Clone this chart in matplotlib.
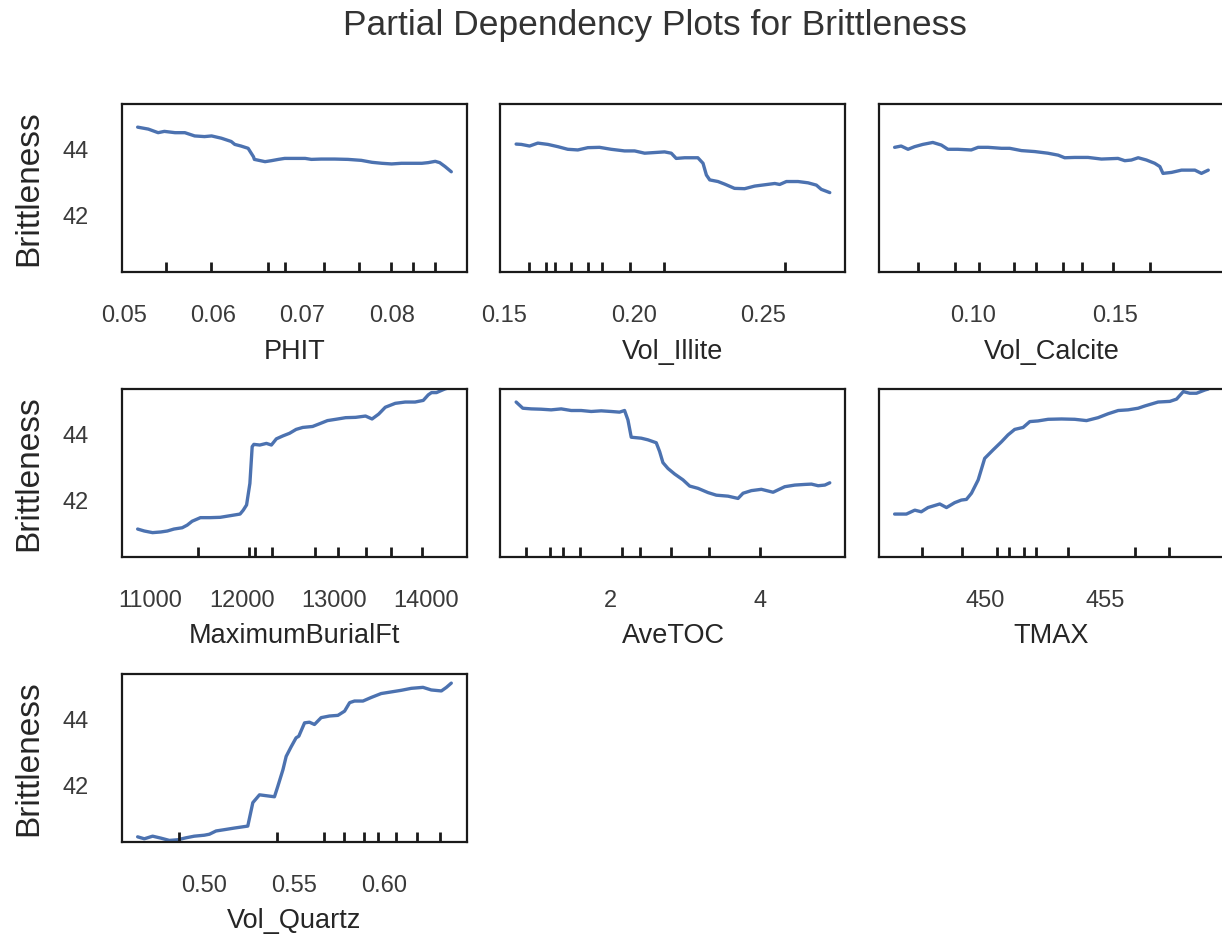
import matplotlib.pyplot as plt
import matplotlib.transforms as mtransforms
import seaborn as sns

# Partial dependence values
phit_x = [0.0515, 0.0527, 0.0538, 0.0545, 0.0557, 0.0568, 0.0579, 0.0590, 0.0598, 0.0609,
          0.0620, 0.0624, 0.0631, 0.0639, 0.0645, 0.0646, 0.0658, 0.0665, 0.0673, 0.0680,
          0.0691, 0.0703, 0.0710, 0.0721, 0.0736, 0.0751, 0.0766, 0.0778, 0.0789, 0.0800,
          0.0811, 0.0822, 0.0834, 0.0841, 0.0849, 0.0854, 0.0860, 0.0867]
phit_pd = [44.70, 44.64, 44.53, 44.57, 44.53, 44.53, 44.43, 44.41, 44.43, 44.36,
           44.26, 44.17, 44.12, 44.05, 43.79, 43.71, 43.64, 43.67, 43.71, 43.74,
           43.74, 43.74, 43.71, 43.72, 43.72, 43.71, 43.68, 43.62, 43.59, 43.57,
           43.59, 43.59, 43.59, 43.61, 43.65, 43.61, 43.49, 43.33]
phit_deciles = [0.0547, 0.0597, 0.0661, 0.0680, 0.0724, 0.0763, 0.0799, 0.0824, 0.0849]

illite_x = [0.1545, 0.1565, 0.1597, 0.1629, 0.1668, 0.1707, 0.1745, 0.1784, 0.1823, 0.1868,
            0.1913, 0.1965, 0.2004, 0.2043, 0.2081, 0.2120, 0.2146, 0.2165, 0.2198, 0.2249,
            0.2269, 0.2282, 0.2295, 0.2327, 0.2353, 0.2391, 0.2430, 0.2469, 0.2508, 0.2547,
            0.2566, 0.2592, 0.2637, 0.2676, 0.2708, 0.2727, 0.2760]
illite_pd = [44.18, 44.17, 44.12, 44.21, 44.17, 44.10, 44.02, 44.00, 44.07, 44.08,
             44.02, 43.97, 43.97, 43.90, 43.92, 43.94, 43.90, 43.74, 43.76, 43.76,
             43.59, 43.23, 43.08, 43.03, 42.95, 42.82, 42.81, 42.89, 42.93, 42.97,
             42.94, 43.03, 43.03, 42.99, 42.92, 42.79, 42.69]
illite_deciles = [0.1593, 0.1661, 0.1694, 0.1756, 0.1823, 0.1879, 0.1985, 0.2118, 0.2585]

calcite_x = [0.0725, 0.0748, 0.0772, 0.0795, 0.0824, 0.0859, 0.0889, 0.0912, 0.0947, 0.0994,
             0.1018, 0.1053, 0.1100, 0.1129, 0.1170, 0.1217, 0.1263, 0.1299, 0.1322, 0.1357,
             0.1404, 0.1451, 0.1509, 0.1533, 0.1556, 0.1580, 0.1609, 0.1638, 0.1656, 0.1667,
             0.1697, 0.1732, 0.1779, 0.1802, 0.1826]
calcite_pd = [44.08, 44.12, 44.02, 44.10, 44.17, 44.23, 44.15, 44.02, 44.02, 44.00,
              44.08, 44.08, 44.05, 44.05, 43.98, 43.95, 43.90, 43.84, 43.76, 43.77,
              43.77, 43.72, 43.74, 43.67, 43.69, 43.76, 43.69, 43.59, 43.49, 43.28,
              43.31, 43.38, 43.38, 43.28, 43.38]
calcite_deciles = [0.0807, 0.0936, 0.1021, 0.1144, 0.1220, 0.1316, 0.1384, 0.1492, 0.1621]

burial_x = [10867, 10939, 11029, 11119, 11190, 11262, 11352, 11406, 11460, 11550,
            11657, 11765, 11873, 11981, 12016, 12052, 12088, 12113, 12131, 12196,
            12268, 12322, 12376, 12447, 12519, 12591, 12663, 12770, 12843, 12932,
            13022, 13130, 13238, 13346, 13417, 13489, 13561, 13669, 13777, 13885,
            13974, 14028, 14064, 14118, 14208, 14279]
burial_pd = [41.11, 41.05, 41.00, 41.02, 41.05, 41.11, 41.15, 41.23, 41.35, 41.46,
             41.46, 41.47, 41.52, 41.57, 41.69, 41.85, 42.51, 43.64, 43.71, 43.69,
             43.74, 43.69, 43.88, 43.97, 44.05, 44.17, 44.23, 44.26, 44.34, 44.44,
             44.48, 44.53, 44.54, 44.58, 44.49, 44.64, 44.85, 44.97, 45.01, 45.01,
             45.06, 45.23, 45.30, 45.30, 45.41, 45.47]
burial_deciles = [11521, 12082, 12142, 12333, 12792, 13051, 13346, 13618, 13956]

toc_x = [0.747, 0.836, 0.947, 1.080, 1.213, 1.347, 1.480, 1.613, 1.747, 1.880,
         2.013, 2.124, 2.191, 2.236, 2.280, 2.413, 2.502, 2.613, 2.658, 2.702,
         2.769, 2.858, 2.969, 3.058, 3.169, 3.302, 3.413, 3.569, 3.702, 3.769,
         3.880, 4.013, 4.169, 4.324, 4.458, 4.591, 4.680, 4.769, 4.858, 4.924]
toc_pd = [45.01, 44.82, 44.80, 44.79, 44.77, 44.80, 44.75, 44.75, 44.72, 44.74,
          44.72, 44.70, 44.75, 44.46, 43.93, 43.90, 43.85, 43.76, 43.49, 43.15,
          42.97, 42.80, 42.62, 42.43, 42.36, 42.23, 42.15, 42.12, 42.05, 42.21,
          42.29, 42.33, 42.24, 42.41, 42.46, 42.48, 42.49, 42.44, 42.46, 42.53]
toc_deciles = [0.88, 1.20, 1.37, 1.60, 2.16, 2.39, 2.81, 3.31, 4.00]

tmax_x = [446.22, 446.71, 447.06, 447.33, 447.61, 448.10, 448.38, 448.72, 449.00, 449.21,
          449.42, 449.70, 449.97, 450.32, 450.67, 450.94, 451.22, 451.57, 451.85, 452.19,
          452.61, 453.17, 453.72, 454.21, 454.69, 455.11, 455.53, 455.94, 456.36, 456.64,
          457.19, 457.68, 457.96, 458.24, 458.51, 458.79, 459.14, 459.28]
tmax_pd = [41.57, 41.57, 41.69, 41.64, 41.77, 41.88, 41.77, 41.92, 42.00, 42.02,
           42.21, 42.62, 43.28, 43.54, 43.79, 44.00, 44.17, 44.23, 44.41, 44.43,
           44.48, 44.49, 44.48, 44.44, 44.53, 44.65, 44.75, 44.77, 44.82, 44.89,
           45.01, 45.03, 45.10, 45.33, 45.28, 45.28, 45.38, 45.41]
tmax_deciles = [447.38, 449.04, 450.49, 450.99, 451.61, 452.10, 453.45, 456.22, 457.65]

quartz_x = [0.4630, 0.4667, 0.4713, 0.4759, 0.4806, 0.4852, 0.4898, 0.4944, 0.5000, 0.5028,
            0.5065, 0.5111, 0.5167, 0.5204, 0.5241, 0.5269, 0.5306, 0.5361, 0.5389, 0.5407,
            0.5436, 0.5454, 0.5481, 0.5509, 0.5524, 0.5556, 0.5583, 0.5611, 0.5648, 0.5694,
            0.5741, 0.5778, 0.5806, 0.5833, 0.5880, 0.5926, 0.5981, 0.6037, 0.6093, 0.6148,
            0.6213, 0.6259, 0.6315, 0.6343, 0.6370]
quartz_pd = [40.41, 40.35, 40.43, 40.37, 40.30, 40.32, 40.38, 40.43, 40.46, 40.49,
             40.59, 40.63, 40.68, 40.71, 40.74, 41.46, 41.70, 41.66, 41.64, 41.95,
             42.47, 42.88, 43.17, 43.45, 43.50, 43.91, 43.93, 43.86, 44.07, 44.12,
             44.14, 44.27, 44.53, 44.58, 44.58, 44.69, 44.81, 44.86, 44.91, 44.97,
             45.00, 44.92, 44.89, 45.00, 45.13]
quartz_deciles = [0.4858, 0.5404, 0.5663, 0.5774, 0.5886, 0.5963, 0.6061, 0.6182, 0.6306]

feature_names = ["PHIT", "Vol_Illite", "Vol_Calcite", "MaximumBurialFt", "AveTOC", "TMAX", "Vol_Quartz"]
xtick_values = [
    [0.05, 0.06, 0.07, 0.08],
    [0.15, 0.20, 0.25],
    [0.10, 0.15],
    [11000, 12000, 13000, 14000],
    [2, 4],
    [450, 455],
    [0.50, 0.55, 0.60],
]
xtick_labels = [
    ["0.05", "0.06", "0.07", "0.08"],
    ["0.15", "0.20", "0.25"],
    ["0.10", "0.15"],
    ["11000", "12000", "13000", "14000"],
    ["2", "4"],
    ["450", "455"],
    ["0.50", "0.55", "0.60"],
]
ytick_values = [42, 44]
target = "Brittleness"


def main():
    sns.set_style("white")
    plt.rcParams["font.family"] = ["Liberation Sans", "DejaVu Sans"]
    plt.rcParams["text.color"] = "#262626"
    plt.rcParams["axes.labelcolor"] = "#262626"

    curves = [
        (phit_x, phit_pd, phit_deciles),
        (illite_x, illite_pd, illite_deciles),
        (calcite_x, calcite_pd, calcite_deciles),
        (burial_x, burial_pd, burial_deciles),
        (toc_x, toc_pd, toc_deciles),
        (tmax_x, tmax_pd, tmax_deciles),
        (quartz_x, quartz_pd, quartz_deciles),
    ]

    fig, axes = plt.subplots(3, 3, figsize=(12.22, 9.38), dpi=100)
    fig.subplots_adjust(left=0.0998, right=1.0016, top=0.8891, bottom=0.1023,
                        wspace=0.097, hspace=0.696)
    axes = axes.ravel()

    for i, ax in enumerate(axes):
        if i >= len(curves):
            ax.set_axis_off()
            continue
        xs, pd_vals, deciles = curves[i]
        ax.plot(xs, pd_vals, color="#4C72B0", lw=2.4)
        trans = mtransforms.blended_transform_factory(ax.transData, ax.transAxes)
        ax.vlines(deciles, 0, 0.06, transform=trans, color="#1a1a1a", lw=2)
        ax.set_ylim(40.25, 45.41)
        ax.set_yticks(ytick_values)
        ax.set_xticks(xtick_values[i])
        ax.set_xticklabels(xtick_labels[i])
        ax.set_xlabel(feature_names[i], fontsize=19.5, labelpad=8)
        ax.tick_params(axis="both", length=0, pad=24, labelsize=17, labelcolor="#3a3a3a")
        for s in ax.spines.values():
            s.set_color("#1a1a1a")
            s.set_linewidth(1.6)
        if i % 3 == 0:
            ax.set_ylabel(target, fontsize=24, labelpad=13)
        else:
            ax.set_yticklabels([])

    fig.suptitle("Partial Dependency Plots for Brittleness", x=0.536, y=0.973,
                 va="center", fontsize=25.5, color="#333333")
    fig.savefig("out.png", dpi=100)


if __name__ == "__main__":
    main()
